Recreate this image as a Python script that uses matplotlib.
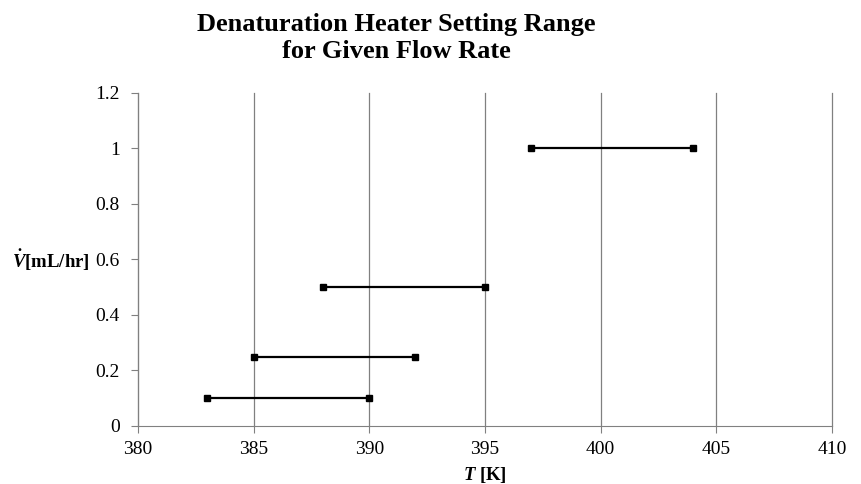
import matplotlib
matplotlib.use("Agg")
import matplotlib.pyplot as plt

# Rangos de temperatura del calentador para cada caudal
caudal = [0.1, 0.25, 0.5, 1.0]
t_min = [383, 385, 388, 397]
t_max = [390, 392, 395, 404]

plt.rcParams['font.family'] = ['Liberation Serif', 'DejaVu Serif']
plt.rcParams['mathtext.fontset'] = 'custom'
plt.rcParams['mathtext.it'] = 'Liberation Serif:italic:bold'
plt.rcParams['mathtext.rm'] = 'Liberation Serif:bold'

fig = plt.figure(figsize=(8.62, 4.84), dpi=100)
ax = fig.add_axes([0.160, 0.120, 0.805, 0.688])

for v, a, b in zip(caudal, t_min, t_max):
    ax.plot([a, b], [v, v], color='black', lw=1.6, marker='s', ms=4,
            solid_capstyle='butt', zorder=3)

ax.set_xlim(380, 410)
ax.set_ylim(0, 1.2)
ax.set_xticks(range(380, 411, 5))
ax.set_yticks([0, 0.2, 0.4, 0.6, 0.8, 1.0, 1.2])
ax.set_yticklabels(['0', '0.2', '0.4', '0.6', '0.8', '1', '1.2'])
ax.grid(True, axis='x', color='#808080', lw=0.9)
for linea in ax.get_xgridlines():
    linea.set_clip_on(False)
for s in ['top', 'right']:
    ax.spines[s].set_visible(False)
for s in ['left', 'bottom']:
    ax.spines[s].set_color('#808080')
ax.tick_params(colors='#808080', labelcolor='black', labelsize=14, length=5)
ax.tick_params(axis='x', pad=6)
ax.tick_params(axis='y', pad=8)

ax.set_xlabel(r'$T$ [K]', fontsize=13.5, fontweight='bold', labelpad=5)
fig.text(90 / 862, 1 - 260 / 484, r'$\dot{V}$[mL/hr]', fontsize=13.5,
         fontweight='bold', ha='right', va='center')

fig.text(396 / 862, 1 - 38 / 484, 'Denaturation Heater Setting Range\nfor Given Flow Rate',
         fontsize=19, fontweight='bold', ha='center', va='center', linespacing=1.2)

fig.savefig('out.png', dpi=100)
